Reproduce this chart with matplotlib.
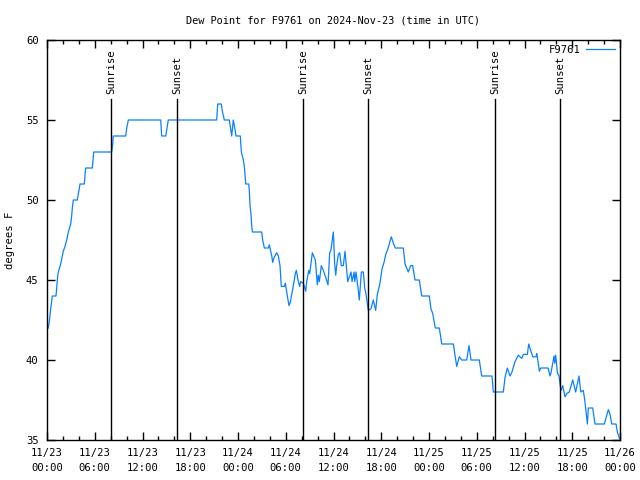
import numpy as np
from matplotlib import pyplot as plt
from matplotlib.ticker import MultipleLocator

# hours since 2024-11-23 00:00 UTC, dew point in F
hours = [0.16, 0.31, 0.44, 0.57, 0.67, 1.13, 1.22, 1.29, 1.42, 1.60, 1.72, 1.88, 2.05, 2.26, 2.48, 2.68,
         2.80, 2.98, 3.10, 3.18, 3.31, 3.81, 3.98, 4.15, 4.69, 4.78, 4.86, 5.69, 5.78, 5.87, 8.13, 8.26,
         8.33, 9.89, 10.02, 10.22, 14.29, 14.41, 14.92, 15.24, 21.32, 21.45, 21.90, 22.05, 22.28, 22.91,
         23.21, 23.41, 23.59, 23.75, 24.29, 24.42, 24.67, 24.79, 24.88, 24.97, 25.35, 25.42, 25.51, 25.63,
         25.72, 25.80, 26.98, 27.10, 27.31, 27.81, 27.93, 28.02, 28.24, 28.36, 28.53, 28.87, 29.07, 29.28,
         29.44, 29.82, 29.95, 30.20, 30.41, 30.57, 30.79, 31.04, 31.20, 31.33, 31.54, 31.75, 31.88, 32.21,
         32.51, 32.63, 32.89, 33.01, 33.34, 33.51, 33.72, 33.97, 34.09, 34.22, 34.47, 34.72, 34.93, 35.31,
         35.52, 35.69, 35.85, 35.98, 36.15, 36.28, 36.40, 36.61, 36.78, 36.98, 37.23, 37.45, 37.57, 37.79,
         38.20, 38.33, 38.58, 38.67, 38.83, 39.08, 39.24, 39.50, 39.75, 39.92, 40.09, 40.37, 40.71, 41.00,
         41.30, 41.51, 41.84, 42.10, 42.35, 42.56, 42.81, 43.26, 43.52, 43.77, 44.77, 44.99, 45.40, 45.70,
         45.95, 46.24, 46.78, 47.09, 48.04, 48.25, 48.47, 48.79, 49.30, 49.60, 51.06, 51.27, 51.48, 51.81,
         52.11, 52.74, 53.03, 53.28, 54.32, 54.62, 55.92, 56.08, 57.34, 57.55, 57.84, 58.18, 58.39, 58.81,
         59.22, 59.65, 59.85, 60.36, 60.53, 60.78, 61.04, 61.45, 61.54, 61.70, 61.87, 62.04, 62.96, 63.21,
         63.33, 63.71, 63.80, 63.92, 64.13, 64.34, 64.46, 64.59, 64.80, 65.09, 65.30, 65.63, 66.06, 66.43,
         66.85, 67.07, 67.39, 67.57, 67.90, 68.02, 68.57, 68.86, 70.03, 70.54, 70.75, 70.96, 71.50, 71.67,
         71.92]
dewpoint = [42.0, 42.5, 43.1, 43.6, 44.0, 44.0, 44.5, 45.0, 45.5, 45.8, 46.0, 46.4, 46.8, 47.1, 47.5, 48.0,
            48.2, 48.5, 49.0, 49.5, 50.0, 50.0, 50.5, 51.0, 51.0, 51.6, 52.0, 52.0, 52.5, 53.0, 53.0, 53.5,
            54.0, 54.0, 54.5, 55.0, 55.0, 54.0, 54.0, 55.0, 55.0, 56.0, 56.0, 55.5, 55.0, 55.0,
            54.0, 55.0, 54.5, 54.0, 54.0, 53.0, 52.5, 52.1, 51.6, 51.0, 51.0, 50.6, 49.7, 49.1,
            48.4, 48.0, 48.0, 47.5, 47.0, 47.0, 47.2, 47.0, 46.5, 46.1, 46.4, 46.7, 46.5, 45.9,
            44.6, 44.6, 44.8, 44.0, 43.4, 43.6, 44.2, 44.9, 45.4, 45.6, 45.0, 44.6, 44.9, 44.8,
            44.3, 44.9, 45.6, 45.4, 46.7, 46.5, 46.25, 44.7, 45.3, 44.9, 45.9, 45.6, 45.3, 44.7,
            46.7, 46.9, 47.5, 48.0, 46.0, 45.3, 45.9, 46.6, 46.7, 45.9, 45.9, 46.8, 46.1, 44.9,
            45.5, 44.9, 45.5, 44.9, 45.5, 44.5, 43.75, 45.5, 45.5, 44.5, 44.1, 43.1, 43.2, 43.75,
            43.1, 44.1, 44.8, 45.7, 46.1, 46.6, 46.9, 47.7, 47.3, 47.0, 47.0, 46.0, 45.5, 45.9,
            45.9, 45.0, 45.0, 44.0, 44.0, 43.2, 42.9, 42.0, 42.0, 41.0, 41.0, 40.3, 39.6, 40.2,
            40.0, 40.0, 40.9, 40.0, 40.0, 39.0, 39.0, 38.0, 38.0, 38.9, 39.5, 39.0, 39.2, 39.9,
            40.3, 40.1, 40.35, 40.35, 41.0, 40.6, 40.2, 40.2, 40.4, 39.9, 39.3, 39.5, 39.5, 39.0,
            39.2, 40.25, 39.8, 40.3, 39.2, 39.0, 38.5, 38.1, 38.4, 37.7, 37.9, 38.0, 38.75, 38.0,
            39.0, 38.0, 38.1, 37.5, 36.0, 37.0, 37.0, 36.0, 36.0, 36.9, 36.6, 36.0, 36.0, 35.5,
            35.1]

sunrise = [8.05, 32.15, 56.3]
sunset = [16.35, 40.35, 64.45]
tick_labels = ["11/23\n00:00", "11/23\n06:00", "11/23\n12:00", "11/23\n18:00", "11/24\n00:00",
               "11/24\n06:00", "11/24\n12:00", "11/24\n18:00", "11/25\n00:00", "11/25\n06:00",
               "11/25\n12:00", "11/25\n18:00", "11/26\n00:00"]


def dewpoint_figure():
    plt.rcParams["font.family"] = "DejaVu Sans Mono"
    plt.rcParams["font.size"] = 7.6

    fig = plt.figure(figsize=(6.4, 4.8), dpi=100)
    ax = fig.add_axes([47 / 640, 40 / 480, 573 / 640, 400 / 480])

    ax.plot(hours, dewpoint, color="#0a80ff", linewidth=0.9, label="F9761")

    # sunrise / sunset markers
    for h in sunrise:
        ax.plot([h, h], [35, 56.3], color="black", linewidth=1)
        ax.text(h, 56.6, "Sunrise", rotation=90, ha="center", va="bottom")
    for h in sunset:
        ax.plot([h, h], [35, 56.3], color="black", linewidth=1)
        ax.text(h, 56.6, "Sunset", rotation=90, ha="center", va="bottom")

    ax.set_xlim(0, 72)
    ax.set_ylim(35, 60)
    ax.set_xticks(np.arange(0, 73, 6))
    ax.set_xticklabels(tick_labels, linespacing=1.6)
    ax.xaxis.set_minor_locator(MultipleLocator(2))
    ax.set_yticks(np.arange(35, 61, 5))
    ax.tick_params(which="both", direction="in", top=True, right=True, width=1)
    ax.tick_params(which="major", length=6, pad=6)
    ax.tick_params(which="minor", length=3)
    for s in ax.spines.values():
        s.set_linewidth(1)

    ax.set_ylabel("degrees F", labelpad=8)
    ax.set_title("Dew Point for F9761 on 2024-Nov-23 (time in UTC)", fontsize=7.4, pad=12)
    ax.legend(loc="upper right", frameon=False, markerfirst=False, handlelength=2.8,
              borderaxespad=0.05, handletextpad=0.5)

    fig.savefig("out.png", dpi=100)


def main():
    dewpoint_figure()


if __name__ == "__main__":
    main()
